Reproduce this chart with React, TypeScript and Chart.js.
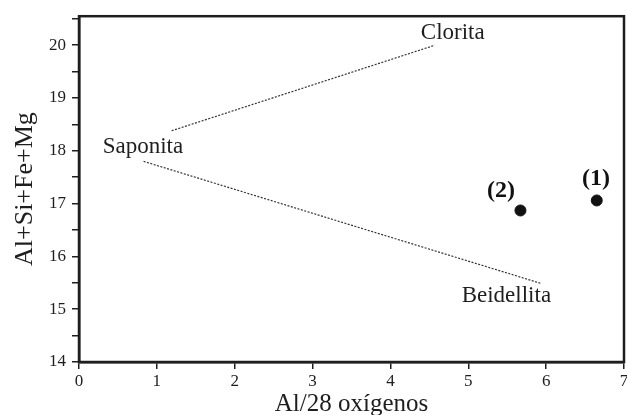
import { useEffect, useRef } from 'react';
import { Chart, registerables } from 'chart.js';

Chart.register(...registerables);

// Sample points
const sampleNames = ['(1)', '(2)'];
const sampleAlX = [6.65, 5.67];
const sampleSumY = [17.06, 16.87];
const sampleLabelX = [6.64, 5.42];
const sampleLabelY = [17.47, 17.235];

// Dotted trend lines (Saponita -> Clorita, Saponita -> Beidellita)
const upperLineX = [1.19, 4.57];
const upperLineY = [18.38, 20.0];
const lowerLineX = [0.83, 5.93];
const lowerLineY = [17.8, 15.49];

// Field names
const fieldNames = ['Clorita', 'Saponita', 'Beidellita'];
const fieldX = [4.39, 0.304, 4.915];
const fieldY = [20.11, 17.955, 15.134];

// Axes
const xTicks = [0, 1, 2, 3, 4, 5, 6, 7];
const yTicks = [14, 14.5, 15, 15.5, 16, 16.5, 17, 17.5, 18, 18.5, 19, 19.5, 20, 20.5];
const xTitle = 'Al/28 oxígenos';
const yTitle = 'Al+Si+Fe+Mg';

const INK = '#1e1e1e';
const SERIF = "'Liberation Serif', 'DejaVu Serif', serif";

export default function App() {
  const ref = useRef<HTMLCanvasElement | null>(null);

  useEffect(() => {
    if (!ref.current) return;
    let chart: Chart | null = null;
    let cancelled = false;

    const textPlugin = {
      id: 'textPlugin',
      afterDraw(c: any) {
        const { ctx, chartArea, scales } = c;
        const xs = scales.x;
        const ys = scales.y;
        ctx.save();
        ctx.strokeStyle = INK;
        ctx.lineWidth = 2.5;
        ctx.strokeRect(chartArea.left, chartArea.top, chartArea.right - chartArea.left, chartArea.bottom - chartArea.top);
        ctx.fillStyle = INK;
        ctx.font = `23px ${SERIF}`;
        ctx.textAlign = 'left';
        ctx.textBaseline = 'alphabetic';
        fieldNames.forEach((n, i) => {
          ctx.fillText(n, xs.getPixelForValue(fieldX[i]), ys.getPixelForValue(fieldY[i]));
        });
        ctx.font = `bold 24px ${SERIF}`;
        ctx.textAlign = 'center';
        ctx.textBaseline = 'middle';
        ctx.fillStyle = '#111';
        sampleNames.forEach((n, i) => {
          ctx.fillText(n, xs.getPixelForValue(sampleLabelX[i]), ys.getPixelForValue(sampleLabelY[i]));
        });
        ctx.restore();
      },
    };

    const toPts = (xa: number[], ya: number[]) => xa.map((x, i) => ({ x, y: ya[i] }));

    const build = () => {
      if (cancelled || !ref.current) return;
      chart = new Chart(ref.current, {
        type: 'scatter',
        data: {
          datasets: [
            {
              label: 'Muestras',
              data: toPts(sampleAlX, sampleSumY),
              backgroundColor: '#111',
              borderColor: '#111',
              pointRadius: 5.5,
              showLine: false,
            },
            {
              label: 'upper',
              type: 'line',
              data: toPts(upperLineX, upperLineY),
              borderColor: '#333',
              borderWidth: 1.2,
              borderDash: [2, 1.5],
              pointRadius: 0,
              fill: false,
            } as any,
            {
              label: 'lower',
              type: 'line',
              data: toPts(lowerLineX, lowerLineY),
              borderColor: '#333',
              borderWidth: 1.2,
              borderDash: [2, 1.5],
              pointRadius: 0,
              fill: false,
            } as any,
          ],
        },
        options: {
          responsive: false,
          animation: false,
          layout: { padding: { top: 14, right: 8, left: 0, bottom: 0 } },
          plugins: { legend: { display: false }, tooltip: { enabled: false } },
          scales: {
            x: {
              type: 'linear',
              min: 0,
              max: 7,
              afterBuildTicks: (s: any) => {
                s.ticks = xTicks.map((v) => ({ value: v }));
              },
              afterFit: (s: any) => {
                s.height = 53;
              },
              ticks: {
                color: INK,
                font: { family: SERIF, size: 17 },
                padding: 2,
                maxRotation: 0,
                callback: (v: any) => String(v),
              },
              grid: { drawOnChartArea: false, drawTicks: true, tickLength: 7, color: INK, lineWidth: 1.5 },
              border: { display: true, color: INK, width: 2.5 },
              title: {
                display: true,
                text: xTitle,
                color: INK,
                font: { family: SERIF, size: 25 },
                padding: { top: 0, bottom: -4 },
              },
            },
            y: {
              type: 'linear',
              min: 14,
              max: 20.55,
              afterBuildTicks: (s: any) => {
                s.ticks = yTicks.map((v) => ({ value: v }));
              },
              afterFit: (s: any) => {
                s.width = 79;
              },
              ticks: {
                color: INK,
                font: { family: SERIF, size: 17 },
                padding: 6,
                callback: (v: any) => (Number.isInteger(v) ? String(v) : ''),
              },
              grid: { drawOnChartArea: false, drawTicks: true, tickLength: 7, color: INK, lineWidth: 1.5 },
              border: { display: true, color: INK, width: 2.5 },
              title: {
                display: true,
                text: yTitle,
                color: INK,
                font: { family: SERIF, size: 26 },
                padding: { top: 10, bottom: 0 },
              },
            },
          },
        },
        plugins: [textPlugin],
      });
    };

    const fontsApi = (document as any).fonts;
    if (fontsApi && fontsApi.load) {
      Promise.all([
        fontsApi.load("17px 'Liberation Serif'"),
        fontsApi.load("bold 24px 'Liberation Serif'"),
      ])
        .catch(() => undefined)
        .then(build);
    } else {
      build();
    }

    return () => {
      cancelled = true;
      if (chart) chart.destroy();
    };
  }, []);

  return (
    <div style={{ position: 'fixed', left: 0, top: 0, width: 627, height: 415, overflow: 'hidden', background: '#fff' }}>
      <canvas ref={ref} width={632} height={415} style={{ width: 632, height: 415, display: 'block' }} />
    </div>
  );
}
